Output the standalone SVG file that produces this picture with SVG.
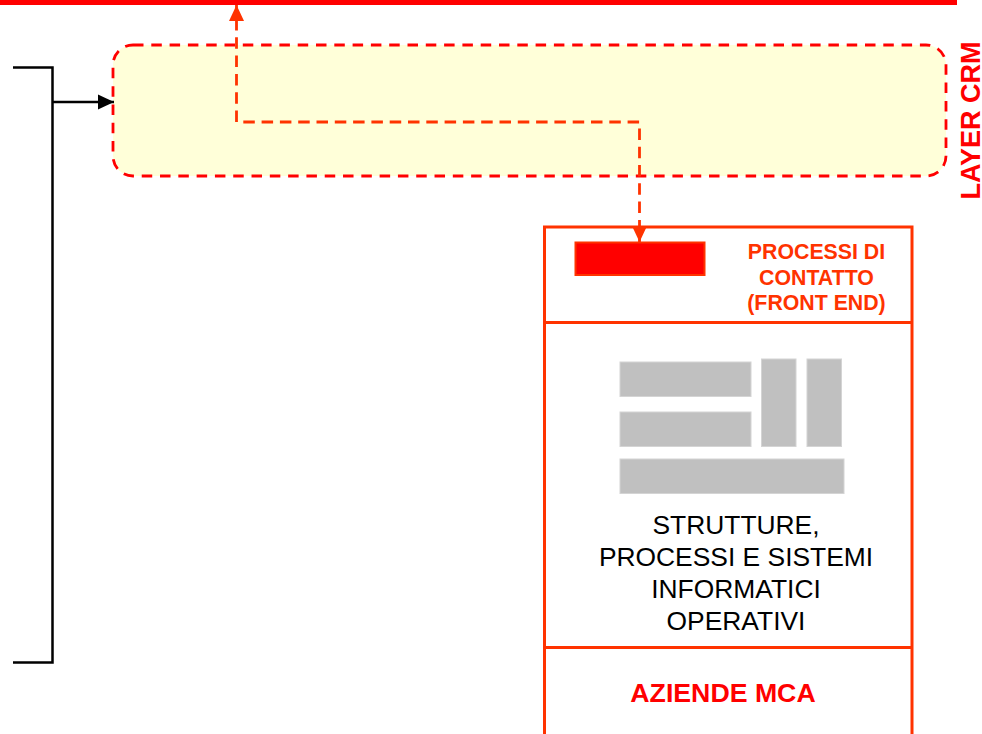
<svg xmlns="http://www.w3.org/2000/svg" width="982" height="734" viewBox="0 0 982 734">
<style>
text{font-family:"Liberation Sans",Arial,sans-serif;text-anchor:middle}
.or{fill:#ff3300;font-weight:bold;font-size:21.300px}
.bk{fill:#000;font-size:26.400px}
.gr{fill:#c0c0c0;stroke:#d4d4d4;stroke-width:1}
.box{fill:none;stroke:#ff3300;stroke-width:3}
.dash{fill:none;stroke:#ff3300;stroke-width:2.800;stroke-dasharray:11.500 6.800;stroke-dashoffset:-14}
.blk{fill:none;stroke:#000;stroke-width:2.500}
</style>
<defs>
<marker id="ao" markerUnits="userSpaceOnUse" markerWidth="16" markerHeight="16" refX="16" refY="8" orient="auto-start-reverse"><path d="M0 0.500L16 8L0 15.500Z" fill="#ff3300"/></marker>
<marker id="ab" markerUnits="userSpaceOnUse" markerWidth="16" markerHeight="16" refX="16" refY="8" orient="auto"><path d="M0 0.500L16 8L0 15.500Z" fill="#000"/></marker>
</defs>
<rect id="top-bar" x="0" y="0" width="957" height="5" fill="#ff0000"/>
<g id="layer-crm">
<rect x="113" y="45" width="833" height="131" rx="20" ry="20" fill="#ffffd9" stroke="#ff0000" stroke-width="2.800" stroke-dasharray="10.500 7.800"/>
<text transform="translate(980,120.500) rotate(-90)" font-size="27" font-weight="bold" fill="#ff0000">LAYER CRM</text>
</g>
<g id="aziende">
<rect class="box" x="544.500" y="227" width="367.500" height="520"/>
<path class="box" d="M544.500 322.500H912M544.500 647.500H912"/>
<rect x="575.500" y="242.500" width="129" height="32.500" fill="#ff0000" stroke="#ff3300" stroke-width="2"/>
<text class="or" x="816.500" y="258.500">PROCESSI DI</text>
<text class="or" x="816.500" y="284.500">CONTATTO</text>
<text class="or" x="816.500" y="309.500">(FRONT END)</text>
<rect class="gr" x="620" y="362" width="131" height="34.500"/>
<rect class="gr" x="620" y="412" width="131" height="34.500"/>
<rect class="gr" x="761.500" y="359" width="34.500" height="87.500"/>
<rect class="gr" x="807" y="359" width="34.500" height="87.500"/>
<rect class="gr" x="620" y="459" width="224" height="34.500"/>
<text class="bk" x="736" y="534">STRUTTURE,</text>
<text class="bk" x="736" y="566">PROCESSI E SISTEMI</text>
<text class="bk" x="736" y="598">INFORMATICI</text>
<text class="bk" x="736" y="630">OPERATIVI</text>
<text x="723" y="702" font-size="26.700" font-weight="bold" fill="#ff0000">AZIENDE MCA</text>
</g>
<g id="connectors">
<path class="blk" d="M13 67.500H52.500V662.500H13"/>
<path class="blk" d="M53 102H114" marker-end="url(#ab)"/>
<path class="dash" d="M236.500 5V122H639.500V242" marker-start="url(#ao)" marker-end="url(#ao)"/>
</g>
</svg>
